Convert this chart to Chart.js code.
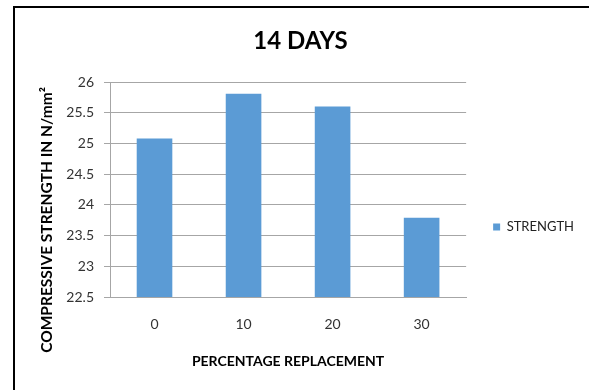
<!DOCTYPE html>
<html>
<head>
<meta charset="utf-8">
<script src="https://cdn.jsdelivr.net/npm/chart.js@4/dist/chart.umd.min.js"></script>
<style>
  html, body { margin: 0; padding: 0; background: #fff; }
  #wrap { position: relative; width: 589px; height: 390px; overflow: hidden; }
  #frame { position: absolute; left: 13px; top: 6px; width: 620px; height: 420px;
           border-left: 2px solid #000; border-top: 2px solid #000; }
  #c { position: absolute; left: 0; top: 0; }
</style>
</head>
<body>
<div id="wrap">
  <div id="frame"></div>
  <canvas id="c" width="589" height="390"></canvas>
</div>
<script>
// Compressive strength after 14 days for each percentage replacement
const categories = ['0', '10', '20', '30'];
const strength = [25.08, 25.81, 25.6, 23.79];
const seriesName = 'STRENGTH';
const chartTitle = '14 DAYS';
const xTitle = 'PERCENTAGE REPLACEMENT';
const yTitle = 'COMPRESSIVE STRENGTH IN N/mm²';
const yMin = 22.5, yMax = 26, yStep = 0.5;

const FONT = 'Lato, "Liberation Sans", Arial, sans-serif';
const GRID = '#a6a6a6';

// Rotated y-axis title, centred a little below the plot middle
const yTitlePlugin = {
  id: 'yTitle',
  afterDraw(chart) {
    const ctx = chart.ctx;
    ctx.save();
    ctx.translate(47, 220);
    ctx.rotate(-Math.PI / 2);
    ctx.font = 'bold 15.5px ' + FONT;
    ctx.fillStyle = '#000';
    ctx.textAlign = 'center';
    ctx.textBaseline = 'middle';
    ctx.fillText(yTitle, 0, 0);
    ctx.restore();
  }
};

// Legend column spans from below the title to the bottom edge
const legendBand = {
  id: 'legendBand',
  afterLayout(chart) {
    chart.legend.top = 64;
    chart.legend.bottom = 390;
  }
};

new Chart(document.getElementById('c'), {
  type: 'bar',
  data: {
    labels: categories,
    datasets: [{
      label: seriesName,
      data: strength,
      backgroundColor: '#5b9bd5',
      borderWidth: 0,
      categoryPercentage: 1.0,
      barPercentage: 0.4
    }]
  },
  plugins: [yTitlePlugin, legendBand],
  options: {
    responsive: false,
    animation: false,
    devicePixelRatio: 1,
    layout: { padding: { left: 17, right: 5, top: 0, bottom: 0 } },
    plugins: {
      title: {
        display: true,
        text: chartTitle,
        color: '#000',
        font: { family: FONT, size: 24, weight: 'bold' },
        padding: { top: 27.3, bottom: 25.9 }
      },
      legend: {
        position: 'right',
        maxWidth: 119,
        labels: {
          boxWidth: 7,
          boxHeight: 7,
          padding: 27,
          color: '#222',
          font: { family: FONT, size: 13 }
        }
      },
      tooltip: { enabled: false }
    },
    scales: {
      x: {
        grid: { display: false, drawTicks: false, tickLength: 0 },
        border: { display: true, color: GRID },
        ticks: { color: '#333', padding: 18.6, font: { family: FONT, size: 14 } },
        title: {
          display: true,
          text: xTitle,
          color: '#000',
          font: { family: FONT, size: 14, weight: 'bold' },
          padding: { top: 0, bottom: 20.6 }
        },
        afterFit(scale) { scale.height = 93; }
      },
      y: {
        min: yMin,
        max: yMax,
        grid: { color: GRID, tickLength: 6 },
        border: { display: true, color: GRID },
        ticks: {
          stepSize: yStep,
          color: '#333',
          padding: 10,
          font: { family: FONT, size: 14 },
          callback: (v) => String(v)
        },
        afterFit(scale) { scale.width = 93; }
      }
    }
  }
});
</script>
</body>
</html>
